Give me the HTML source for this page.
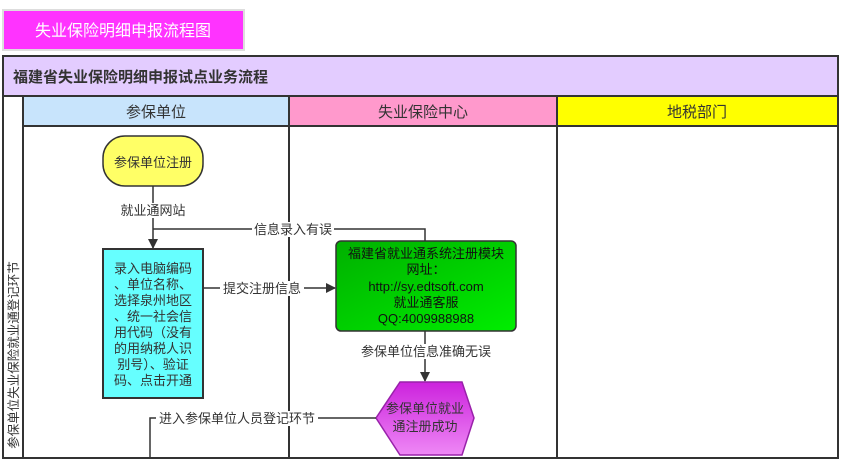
<!DOCTYPE html>
<html><head><meta charset="utf-8"><style>
body{margin:0;width:843px;height:459px;background:#fff;overflow:hidden;font-family:"Liberation Sans","Noto Sans CJK SC",sans-serif}
</style></head><body>
<svg width="843" height="459" xmlns="http://www.w3.org/2000/svg" font-family="Liberation Sans, Noto Sans CJK SC, sans-serif">
<defs><marker id="a" markerWidth="10" markerHeight="10" refX="9" refY="5" orient="auto" markerUnits="userSpaceOnUse"><path d="M0,0 L10,5 L0,10 z" fill="#333"/></marker>
<linearGradient id="g" x1="0" y1="0" x2="1" y2="1"><stop offset="0" stop-color="#00b000"/><stop offset="1" stop-color="#00ee00"/></linearGradient>
<linearGradient id="p" x1="0" y1="0" x2="0" y2="1"><stop offset="0" stop-color="#cc22dd"/><stop offset="1" stop-color="#ee88f5"/></linearGradient></defs>
<rect x="3" y="10" width="241" height="40" fill="#ff33ff" stroke="#ddd" stroke-width="2"/>
<text x="123" y="36" font-size="16" fill="#fff" text-anchor="middle">失业保险明细申报流程图</text>
<rect x="3" y="56" width="835" height="402" fill="#fff" stroke="#333" stroke-width="2"/>
<rect x="3" y="56" width="835" height="40" fill="#e3ccff" stroke="#333" stroke-width="2"/>
<text x="13" y="82" font-size="15" font-weight="bold" fill="#333">福建省失业保险明细申报试点业务流程</text>
<rect x="23" y="96" width="266" height="30" fill="#c8e4fc" stroke="#333" stroke-width="2"/>
<rect x="289" y="96" width="268" height="30" fill="#ff99cc" stroke="#333" stroke-width="2"/>
<rect x="557" y="96" width="281" height="30" fill="#ffff00" stroke="#333" stroke-width="2"/>
<text x="156" y="117" font-size="15" fill="#333" text-anchor="middle">参保单位</text>
<text x="423" y="117" font-size="15" fill="#333" text-anchor="middle">失业保险中心</text>
<text x="697" y="117" font-size="15" fill="#333" text-anchor="middle">地税部门</text>
<line x1="23" y1="96" x2="23" y2="458" stroke="#333" stroke-width="2"/>
<line x1="289" y1="126" x2="289" y2="458" stroke="#333" stroke-width="2"/>
<line x1="557" y1="126" x2="557" y2="458" stroke="#333" stroke-width="2"/>
<text transform="translate(18,355) rotate(-90)" font-size="12.5" fill="#333" text-anchor="middle">参保单位失业保险就业通登记环节</text>
<rect x="103" y="136" width="100" height="50" rx="22" fill="#ffff66" stroke="#333" stroke-width="1.5"/>
<text x="153" y="167" font-size="13" fill="#333" text-anchor="middle">参保单位注册</text>
<line x1="153" y1="186" x2="153" y2="248" stroke="#333" stroke-width="1.5" marker-end="url(#a)"/>
<rect x="120" y="203" width="66" height="15" fill="#fff"/>
<text x="153" y="215" font-size="13" fill="#333" text-anchor="middle">就业通网站</text>
<polyline points="425,241 425,229 153,229" fill="none" stroke="#333" stroke-width="1.5"/>
<rect x="252" y="222" width="82" height="15" fill="#fff"/>
<text x="293" y="234" font-size="13" fill="#333" text-anchor="middle">信息录入有误</text>
<rect x="103" y="249" width="100" height="149" fill="#66ffff" stroke="#333" stroke-width="2"/>
<g font-size="13" fill="#333" text-anchor="middle">
<text x="153" y="273">录入电脑编码</text><text x="153" y="289">、单位名称、</text><text x="153" y="305">选择泉州地区</text><text x="153" y="321">、统一社会信</text><text x="153" y="337">用代码（没有</text><text x="153" y="353">的用纳税人识</text><text x="153" y="369">别号）、验证</text><text x="153" y="385">码、点击开通</text></g>
<line x1="203" y1="288" x2="335" y2="288" stroke="#333" stroke-width="1.5" marker-end="url(#a)"/>
<rect x="220" y="281" width="84" height="15" fill="#fff"/>
<text x="262" y="293" font-size="13" fill="#333" text-anchor="middle">提交注册信息</text>
<rect x="336" y="241" width="180" height="90" rx="5" fill="url(#g)" stroke="#333" stroke-width="1.5"/>
<g font-size="13" fill="#111" text-anchor="middle">
<text x="426" y="258">福建省就业通系统注册模块</text><text x="426" y="274">网址：</text><text x="426" y="291">http://sy.edtsoft.com</text><text x="426" y="307">就业通客服</text><text x="426" y="323">QQ:4009988988</text></g>
<line x1="425" y1="331" x2="425" y2="381" stroke="#333" stroke-width="1.5" marker-end="url(#a)"/>
<rect x="358" y="344" width="136" height="15" fill="#fff"/>
<text x="426" y="356" font-size="13" fill="#333" text-anchor="middle">参保单位信息准确无误</text>
<polygon points="400,382 462,382 474,418 462,455 400,455 376,418" fill="url(#p)" stroke="#9922aa" stroke-width="1.5"/>
<text x="425" y="413" font-size="13" fill="#333" text-anchor="middle">参保单位就业</text>
<text x="425" y="431" font-size="13" fill="#333" text-anchor="middle">通注册成功</text>
<polyline points="376,418 150,418 150,458" fill="none" stroke="#333" stroke-width="1.5"/>
<rect x="156" y="411" width="162" height="15" fill="#fff"/>
<text x="237" y="423" font-size="13" fill="#333" text-anchor="middle">进入参保单位人员登记环节</text>
</svg>
</body></html>
